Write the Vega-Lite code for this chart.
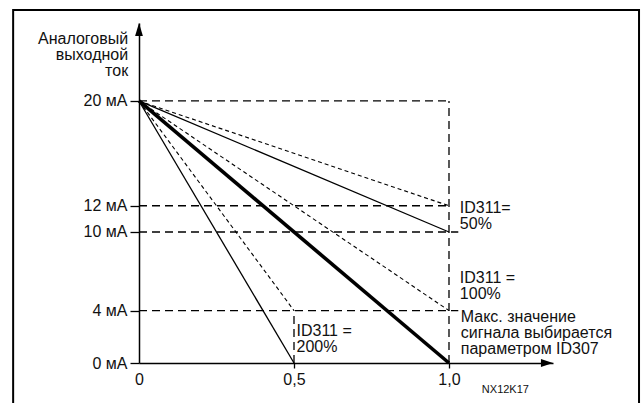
{
  "$schema": "https://vega.github.io/schema/vega-lite/v6.json",
  "width": 414,
  "height": 340,
  "autosize": "none",
  "padding": {"left": 139, "top": 23, "right": 88, "bottom": 40},
  "background": "white",
  "config": {"view": {"stroke": null}, "font": "Liberation Sans"},
  "datasets": {
    "frame": [{"x1": -0.406, "x2": 1.613, "y1": -4, "y2": 26.95}],
    "guides": [
      {"x1": 0, "x2": 1.0, "y1": 20, "y2": 20},
      {"x1": 0, "x2": 1.0, "y1": 12, "y2": 12},
      {"x1": 0, "x2": 1.03, "y1": 10, "y2": 10},
      {"x1": 0, "x2": 1.03, "y1": 4, "y2": 4},
      {"x1": 1.0, "x2": 1.0, "y1": 0, "y2": 20},
      {"x1": 0.5, "x2": 0.5, "y1": 0, "y2": 4}
    ],
    "thin": [
      {"s": "200", "x": 0, "y": 20}, {"s": "200", "x": 0.5, "y": 0},
      {"s": "50", "x": 0, "y": 20}, {"s": "50", "x": 1.0, "y": 10}
    ],
    "thick": [
      {"s": "100", "x": 0, "y": 20}, {"s": "100", "x": 1.0, "y": 0}
    ],
    "dotted": [
      {"s": "200", "x": 0, "y": 20}, {"s": "200", "x": 0.5, "y": 4},
      {"s": "100", "x": 0, "y": 20}, {"s": "100", "x": 1.0, "y": 4},
      {"s": "50", "x": 0, "y": 20}, {"s": "50", "x": 1.0, "y": 12}
    ],
    "labels": [
      {"x": 1.035, "y": 11.45, "t": "ID311=\n50%"},
      {"x": 1.035, "y": 6.11, "t": "ID311 =\n100%"},
      {"x": 1.038, "y": 3.1, "t": "Макс. значение\nсигнала выбирается\nпараметром ID307"},
      {"x": 0.508, "y": 2.08, "t": "ID311 =\n200%"}
    ],
    "title": [{"x": -0.035, "y": 24.35, "t": "Аналоговый\nвыходной\nток"}],
    "code": [{"x": 1.106, "y": -2.29, "t": "NX12K17"}]
  },
  "layer": [
    {
      "data": {"name": "frame"},
      "mark": {"type": "rect", "fill": null, "fillOpacity": 0, "stroke": "#000", "strokeWidth": 2, "clip": false},
      "encoding": {
        "x": {"field": "x1", "type": "quantitative", "scale": {"domain": [0, 1.3355], "nice": false, "zero": false},
          "axis": {
            "values": [0, 0.5, 1],
            "labelExpr": "datum.value == 0 ? '0' : replace(format(datum.value, '.1f'), '.', ',')",
            "title": null, "grid": false,
            "domainColor": "#000", "domainWidth": 1.5,
            "tickColor": "#000", "tickWidth": 1.3, "tickSize": 5,
            "tickOpacity": {"condition": {"test": "datum.value == 0", "value": 0}, "value": 1},
            "labelFont": "Liberation Sans", "labelFontSize": 16, "labelColor": "#111",
            "labelPadding": 3, "labelBaseline": "top", "labelAngle": 0, "labelOverlap": false, "labelFlush": false
          }},
        "x2": {"field": "x2"},
        "y": {"field": "y1", "type": "quantitative", "scale": {"domain": [0, 25.95], "nice": false, "zero": false},
          "axis": {
            "values": [0, 4, 10, 12, 20],
            "labelExpr": "datum.value + ' мА'",
            "title": null, "grid": false,
            "domainColor": "#000", "domainWidth": 1.5,
            "tickColor": "#000", "tickWidth": 1.3, "tickSize": 9,
            "labelFont": "Liberation Sans", "labelFontSize": 16, "labelColor": "#111",
            "labelPadding": 3, "labelBaseline": "middle", "labelOverlap": false, "labelFlush": false
          }},
        "y2": {"field": "y2"}
      }
    },
    {
      "data": {"name": "guides"},
      "mark": {"type": "rule", "color": "#000", "strokeWidth": 1.3, "strokeDash": [8, 5]},
      "encoding": {
        "x": {"field": "x1", "type": "quantitative"},
        "x2": {"field": "x2"},
        "y": {"field": "y1", "type": "quantitative"},
        "y2": {"field": "y2"}
      }
    },
    {
      "data": {"name": "thin"},
      "mark": {"type": "line", "color": "#000", "strokeWidth": 1.3},
      "encoding": {
        "x": {"field": "x", "type": "quantitative"},
        "y": {"field": "y", "type": "quantitative"},
        "detail": {"field": "s"}
      }
    },
    {
      "data": {"name": "dotted"},
      "mark": {"type": "line", "color": "#000", "strokeWidth": 1.1, "strokeDash": [4, 3]},
      "encoding": {
        "x": {"field": "x", "type": "quantitative"},
        "y": {"field": "y", "type": "quantitative"},
        "detail": {"field": "s"}
      }
    },
    {
      "data": {"name": "thick"},
      "mark": {"type": "line", "color": "#000", "strokeWidth": 3.6},
      "encoding": {
        "x": {"field": "x", "type": "quantitative"},
        "y": {"field": "y", "type": "quantitative"},
        "detail": {"field": "s"}
      }
    },
    {
      "data": {"values": [{"x": 0, "y": 25.46}]},
      "mark": {"type": "point", "shape": "M0,-1L0.6,1L-0.6,1Z", "size": 169, "filled": true, "color": "#000", "opacity": 1, "clip": false},
      "encoding": {
        "x": {"field": "x", "type": "quantitative"},
        "y": {"field": "y", "type": "quantitative"}
      }
    },
    {
      "data": {"values": [{"x": 1.316, "y": 0}]},
      "mark": {"type": "point", "shape": "M1,0L-1,0.65L-1,-0.65Z", "size": 144, "filled": true, "color": "#000", "opacity": 1, "clip": false},
      "encoding": {
        "x": {"field": "x", "type": "quantitative"},
        "y": {"field": "y", "type": "quantitative"}
      }
    },
    {
      "data": {"name": "labels"},
      "mark": {"type": "text", "align": "left", "baseline": "alphabetic", "fontSize": 16, "lineHeight": 16, "lineBreak": "\n", "color": "#111", "font": "Liberation Sans", "clip": false},
      "encoding": {
        "x": {"field": "x", "type": "quantitative"},
        "y": {"field": "y", "type": "quantitative"},
        "text": {"field": "t"}
      }
    },
    {
      "data": {"name": "title"},
      "mark": {"type": "text", "align": "right", "baseline": "alphabetic", "fontSize": 16, "lineHeight": 16, "lineBreak": "\n", "color": "#111", "font": "Liberation Sans", "clip": false},
      "encoding": {
        "x": {"field": "x", "type": "quantitative"},
        "y": {"field": "y", "type": "quantitative"},
        "text": {"field": "t"}
      }
    },
    {
      "data": {"name": "code"},
      "mark": {"type": "text", "align": "left", "baseline": "alphabetic", "fontSize": 11, "color": "#111", "font": "Liberation Sans", "clip": false},
      "encoding": {
        "x": {"field": "x", "type": "quantitative"},
        "y": {"field": "y", "type": "quantitative"},
        "text": {"field": "t"}
      }
    }
  ]
}
